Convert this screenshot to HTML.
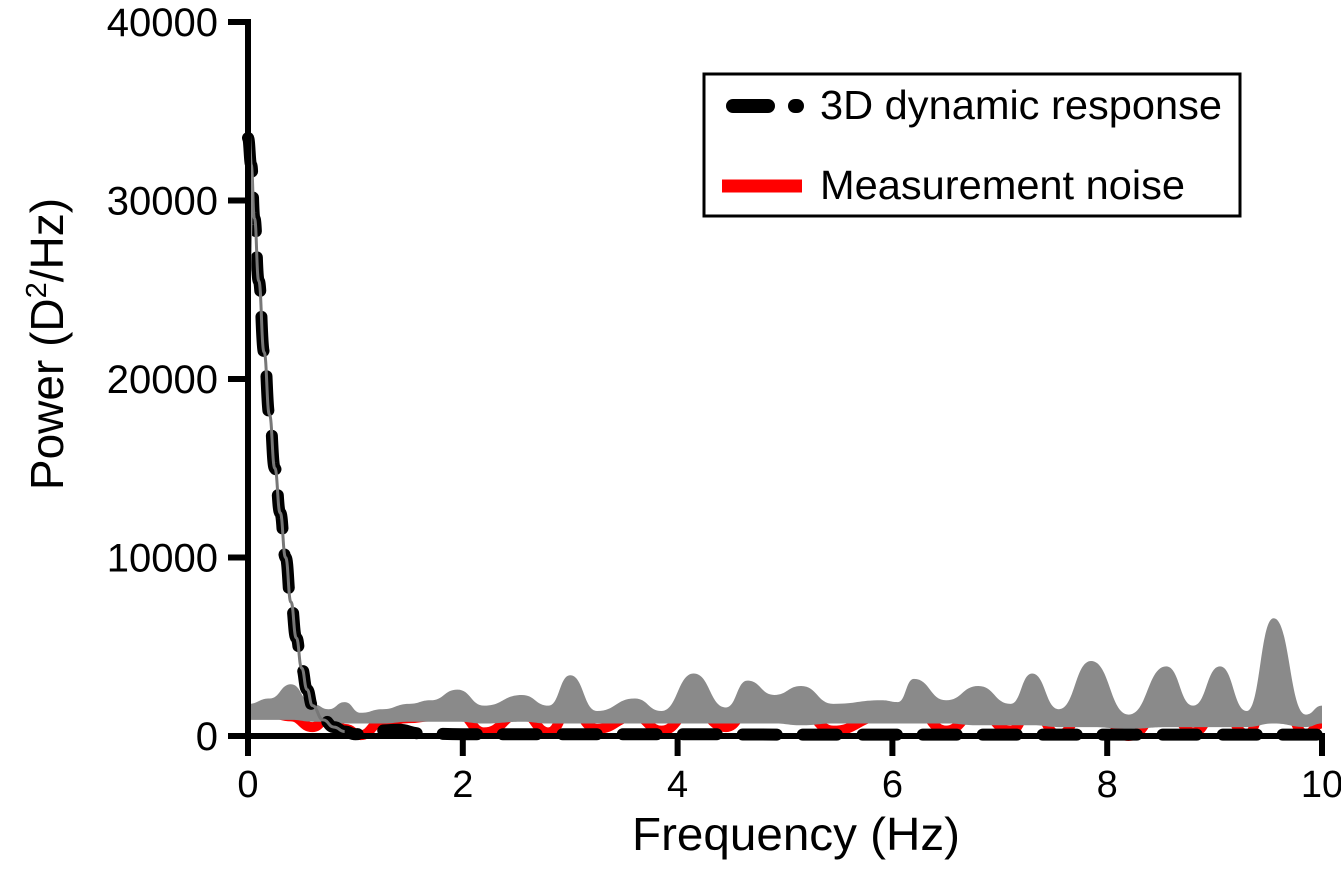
<!DOCTYPE html>
<html><head><meta charset="utf-8"><style>
body{margin:0;background:#fff}
svg text{font-family:"Liberation Sans",Arial,sans-serif;fill:#000}
</style></head><body>
<svg id="chart" width="1341" height="864" viewBox="0 0 1341 864">
<g id="marks"></g>
<g id="axes"></g>
<g>
<rect x="704" y="74" width="536" height="142" fill="#fff" stroke="#000" stroke-width="3"/>
<line x1="733" y1="106" x2="768" y2="106" stroke="#000" stroke-width="14" stroke-linecap="round"/>
<line x1="795" y1="106" x2="797" y2="106" stroke="#000" stroke-width="14" stroke-linecap="round"/>
<text x="820" y="119" font-size="41" textLength="402" lengthAdjust="spacingAndGlyphs">3D dynamic response</text>
<line x1="722" y1="186" x2="802" y2="186" stroke="#f00" stroke-width="13"/>
<text x="820" y="199" font-size="41" textLength="365" lengthAdjust="spacingAndGlyphs">Measurement noise</text>
</g>
<text x="796" y="850" font-size="46" text-anchor="middle" textLength="328" lengthAdjust="spacingAndGlyphs">Frequency (Hz)</text>
<text transform="translate(63,344) rotate(-90)" font-size="46" text-anchor="middle">Power (D<tspan font-size="29" dy="-17">2</tspan><tspan dy="17">/Hz)</tspan></text>
</svg>
<script>
const xTicks=[0,2,4,6,8,10];
const yTicks=[0,10000,20000,30000,40000];
const noiseFreq=[0,0.2,0.4,0.6,0.75,0.9,1.05,1.25,1.5,1.7,1.95,2.2,2.55,2.8,3.0,3.25,3.6,3.85,4.15,4.45,4.65,4.9,5.15,5.45,5.9,6.05,6.2,6.5,6.8,7.1,7.3,7.55,7.85,8.2,8.55,8.8,9.05,9.3,9.55,9.85,10];
const noiseUpper=[1800,2100,2900,1800,1500,1900,1300,1500,1800,2000,2600,1700,2300,1700,3400,1400,2100,1400,3500,1600,3100,2300,2800,1800,2000,1900,3200,2000,2800,1800,3500,1500,4200,1200,3900,1700,3900,1400,6600,1200,1700];
const noiseLower=[900,900,900,800,800,700,700,700,800,800,800,700,800,700,700,700,700,700,700,700,700,700,600,700,700,700,700,700,600,600,600,500,500,400,500,500,500,500,700,500,700];
const noiseMean=[1200,1300,1100,500,1000,400,50,800,1000,1100,1300,200,1300,200,1500,400,1100,300,1500,500,1300,1100,1400,300,1100,1000,1600,300,1400,300,1600,50,2200,0,1800,200,1700,100,3800,100,700];
const respFreq=[0,0.03,0.06,0.1,0.15,0.2,0.25,0.3,0.35,0.4,0.45,0.5,0.55,0.6,0.7,0.8,0.9,1.0,1.2,1.4,1.6,2.0,3,4,5,6,7,8,9,10];
const respPower=[33500,32000,29000,25500,21500,18000,15000,12500,10000,7500,5500,3800,2600,1700,900,500,250,100,300,350,150,100,100,100,80,80,80,80,80,80];
const X0=248,X1=1322,Y0=736,Y1=22;
const sx=f=>X0+(f-0)/(10-0)*(X1-X0);
const sy=p=>Y0-(p/40000)*(Y0-Y1);
const NS='http://www.w3.org/2000/svg';
const marks=document.getElementById('marks'),axes=document.getElementById('axes');
function mk(tag,attrs,parent){const e=document.createElementNS(NS,tag);for(const k in attrs)e.setAttribute(k,attrs[k]);parent.appendChild(e);return e;}
function smooth(fs,vs){let d='M'+sx(fs[0])+','+sy(vs[0]);for(let i=1;i<fs.length;i++){const xm=(sx(fs[i-1])+sx(fs[i]))/2;d+=' C'+xm+','+sy(vs[i-1])+' '+xm+','+sy(vs[i])+' '+sx(fs[i])+','+sy(vs[i]);}return d;}
const redLine=mk('path',{d:smooth(noiseFreq,noiseMean),fill:'none',stroke:'#f00','stroke-width':10},marks);


let up=smooth(noiseFreq,noiseUpper);
let lowRev=smooth(noiseFreq.slice().reverse(),noiseLower.slice().reverse()).replace(/^M/,'L');
const band=mk('path',{d:up+' '+lowRev+' Z',fill:'#8a8a8a'},marks);


const respLine=mk('path',{d:smooth(respFreq,respPower),fill:'none',stroke:'#000','stroke-width':12,'stroke-dasharray':'34 26','stroke-linecap':'round'},marks);


const respCore=mk('path',{d:smooth(respFreq.slice(0,17),respPower.slice(0,17)),fill:'none',stroke:'#777','stroke-width':3},marks);


const spike=mk('path',{d:'M'+sx(0)+','+sy(37000)+' L'+sx(0.05)+','+sy(31000)+' L'+sx(0.03)+','+sy(26000)+' L'+sx(0)+','+sy(28000)+' Z',fill:'#888'},marks);


const xl=mk('line',{x1:X0-3,y1:Y0,x2:X1+3,y2:Y0,stroke:'#000','stroke-width':6},axes);


const yl=mk('line',{x1:X0,y1:Y1-3,x2:X0,y2:Y0+3,stroke:'#000','stroke-width':6},axes);


xTicks.forEach(t=>{const tk=mk('line',{x1:sx(t),y1:Y0,x2:sx(t),y2:Y0+20,stroke:'#000','stroke-width':6},axes);


const tx=mk('text',{x:sx(t),y:797,'font-size':38,'text-anchor':'middle'},axes);tx.textContent=t;

});
yTicks.forEach(t=>{const tk=mk('line',{x1:X0-20,y1:sy(t),x2:X0,y2:sy(t),stroke:'#000','stroke-width':6},axes);


const tx=mk('text',{x:218,y:sy(t)+14,'font-size':40,'text-anchor':'end'},axes);tx.textContent=t;

});
</script>
</body></html>
